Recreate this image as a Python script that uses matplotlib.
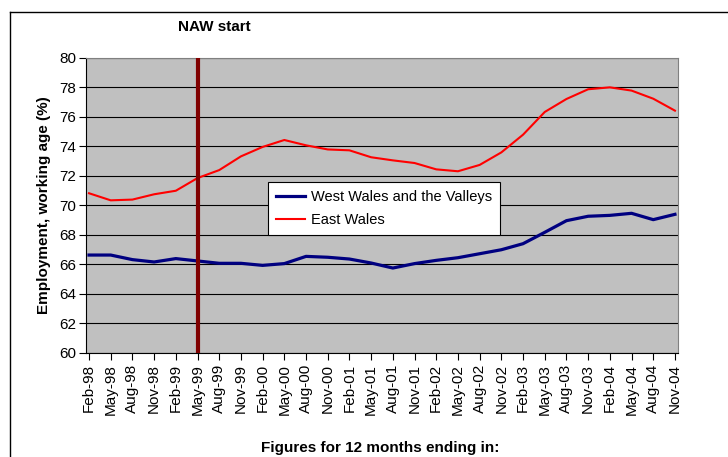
import matplotlib

matplotlib.use("Agg")
import matplotlib.pyplot as plt
from matplotlib.lines import Line2D

# categories: 12 months ending in...
months = [
    "Feb-98", "May-98", "Aug-98", "Nov-98", "Feb-99", "May-99", "Aug-99",
    "Nov-99", "Feb-00", "May-00", "Aug-00", "Nov-00", "Feb-01", "May-01",
    "Aug-01", "Nov-01", "Feb-02", "May-02", "Aug-02", "Nov-02", "Feb-03",
    "May-03", "Aug-03", "Nov-03", "Feb-04", "May-04", "Aug-04", "Nov-04",
]
west_wales = [
    66.64, 66.64, 66.33, 66.17, 66.40, 66.24, 66.08, 66.08, 65.94, 66.06,
    66.55, 66.49, 66.37, 66.10, 65.76, 66.06, 66.28, 66.46, 66.73, 67.00,
    67.41, 68.18, 68.97, 69.27, 69.33, 69.47, 69.04, 69.40,
]
east_wales = [
    70.83, 70.35, 70.40, 70.76, 71.00, 71.86, 72.40, 73.33, 73.97, 74.44,
    74.08, 73.80, 73.74, 73.27, 73.06, 72.88, 72.45, 72.32, 72.75, 73.60,
    74.80, 76.34, 77.22, 77.88, 78.01, 77.79, 77.24, 76.43,
]
naw_start = "May-99"
y_ticks = [60, 62, 64, 66, 68, 70, 72, 74, 76, 78, 80]

plt.rcParams["font.family"] = ["Liberation Sans", "DejaVu Sans"]

fig = plt.figure(figsize=(7.28, 4.57), dpi=100)
ax = fig.add_axes([0.1181, 0.2276, 0.8132, 0.6455])
ax.set_facecolor("#c0c0c0")

xs = list(range(len(months)))
ax.plot(xs, west_wales, color="#000080", linewidth=2.3, label="West Wales and the Valleys", zorder=3)
ax.plot(xs, east_wales, color="#ff0000", linewidth=1.5, label="East Wales", zorder=3)
ax.axvline(months.index(naw_start), color="#800000", linewidth=3, zorder=4)

ax.set_xlim(-0.14, len(months) - 1 + 0.14)
ax.set_ylim(60, 80)
ax.set_yticks(y_ticks)
ax.set_xticks(xs)
ax.set_xticklabels(months, rotation=90, fontsize=11)
ax.tick_params(axis="y", labelsize=11, length=5, direction="out", pad=2)
ax.tick_params(axis="x", length=5, direction="out", pad=3)
ax.grid(axis="y", color="black", linewidth=0.8)
ax.set_axisbelow(True)
for side in ("top", "right"):
    ax.spines[side].set_color("#808080")
for side in ("left", "bottom"):
    ax.spines[side].set_color("black")

ax.set_ylabel("Employment, working age (%)", fontsize=11, fontweight="bold", labelpad=6)
fig.text(0.522, 0.02, "Figures for 12 months ending in:", ha="center", va="center",
         fontsize=11, fontweight="bold")
fig.text(0.294, 0.94, "NAW start", ha="center", va="center", fontsize=11, fontweight="bold")

leg = ax.legend(loc="upper left", bbox_to_anchor=(0.307, 0.58), borderaxespad=0,
                fontsize=10.5, frameon=True, fancybox=False, edgecolor="black",
                facecolor="white", framealpha=1, handlelength=2.0, borderpad=0.55,
                labelspacing=0.65, handletextpad=0.4)
leg.get_frame().set_linewidth(0.8)

# outer chart frame (top and left edges visible)
top = 1 - 12 / 457
left = 10 / 728
fig.add_artist(Line2D([left, 1], [top, top], color="black", linewidth=1, transform=fig.transFigure))
fig.add_artist(Line2D([left, left], [0, top], color="black", linewidth=1, transform=fig.transFigure))

fig.savefig("out.png", dpi=100)
